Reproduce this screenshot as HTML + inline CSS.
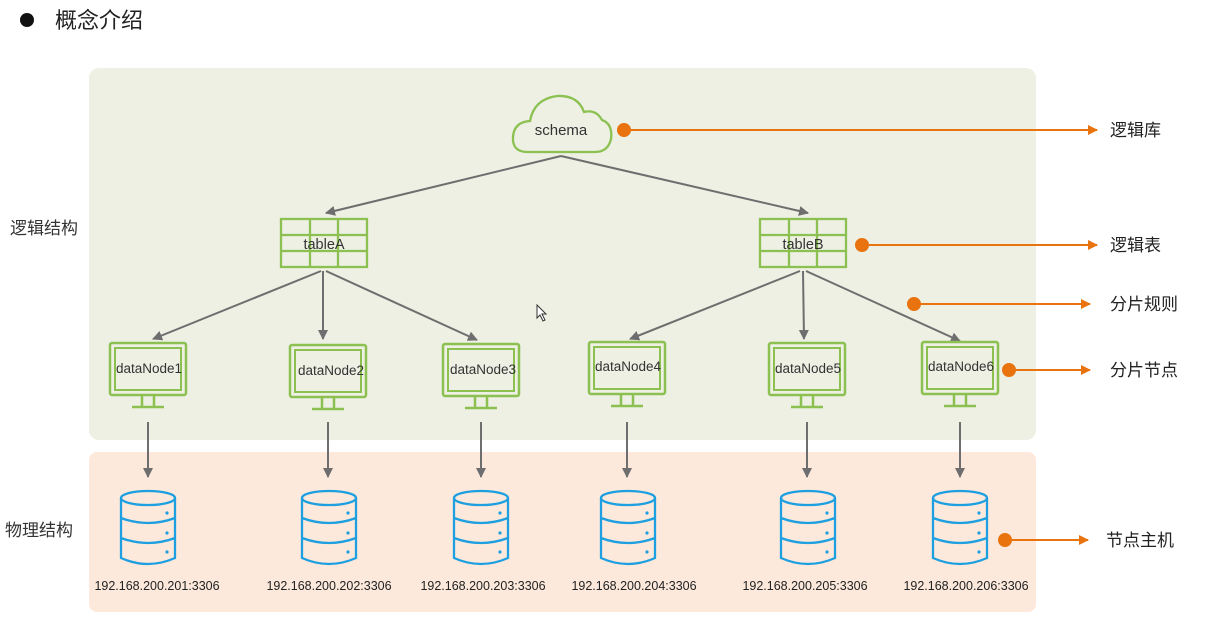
<!DOCTYPE html>
<html><head><meta charset="utf-8"><style>
body{margin:0;background:#fff;width:1211px;height:620px;overflow:hidden}
svg text{font-family:"Liberation Sans","Noto Sans CJK SC",sans-serif}
</style></head><body>
<svg width="1211" height="620" viewBox="0 0 1211 620" xmlns="http://www.w3.org/2000/svg">
<defs>
<marker id="ga" markerWidth="10" markerHeight="10" refX="9" refY="5" orient="auto" markerUnits="userSpaceOnUse"><path d="M0,0 L10,5 L0,10 z" fill="#6e6e6e"/></marker>
<marker id="oa" markerWidth="10" markerHeight="10" refX="9" refY="5" orient="auto" markerUnits="userSpaceOnUse"><path d="M0,0 L10,5 L0,10 z" fill="#e8730f"/></marker>
<g id="mon">
<rect x="-38" y="0" width="76" height="52" rx="2" fill="none" stroke="#8cc152" stroke-width="2.5"/>
<rect x="-33" y="5" width="66" height="42" fill="none" stroke="#8cc152" stroke-width="2"/>
<path d="M-6,52 V63 M6,52 V63 M-16,64 H16" stroke="#8cc152" stroke-width="2.5" fill="none"/>
</g>
<g id="db" fill="none" stroke="#1e9fe0" stroke-width="2.3">
<ellipse cx="0" cy="8" rx="27" ry="7"/>
<path d="M-27,8 V68 Q0,80 27,68 V8"/>
<path d="M-27,28 Q0,38 27,28 M-27,48 Q0,58 27,48"/>
<circle cx="19" cy="23" r="1.6" fill="#1e9fe0" stroke="none"/>
<circle cx="19" cy="43" r="1.6" fill="#1e9fe0" stroke="none"/>
<circle cx="19" cy="62" r="1.6" fill="#1e9fe0" stroke="none"/>
</g>
<g id="tbl" fill="none" stroke="#8cc152" stroke-width="2.3">
<rect x="0" y="0" width="86" height="48"/>
<path d="M0,16 H86 M0,32 H86 M29,0 V48 M57,0 V48"/>
</g>
</defs>
<circle cx="27" cy="20" r="7" fill="#111"/>
<text x="55" y="28" font-size="22" fill="#222">概念介绍</text>
<rect x="89" y="68" width="947" height="372" rx="10" fill="#edf0e3"/>
<rect x="89" y="452" width="947" height="160" rx="8" fill="#fce9dc"/>
<text x="10" y="234" font-size="17" fill="#333">逻辑结构</text>
<text x="5" y="536" font-size="17" fill="#333">物理结构</text>
<!-- cloud -->
<path d="M526,152 Q512,151 513,137 Q514,122 530,121 Q534,99 557,96 Q578,95 584,112 Q596,109 602,120 Q613,124 611,139 Q608,152 595,152 Z" fill="none" stroke="#8cc152" stroke-width="2.3"/>
<text x="561" y="135" font-size="15" fill="#333" text-anchor="middle">schema</text>
<use href="#tbl" x="281" y="219"/>
<use href="#tbl" x="760" y="219"/>
<text x="324" y="249" font-size="14.5" fill="#333" text-anchor="middle">tableA</text>
<text x="803" y="249" font-size="14.5" fill="#333" text-anchor="middle">tableB</text>
<g stroke="#6e6e6e" stroke-width="2" fill="none">
<path d="M561,156 L326,213" marker-end="url(#ga)"/>
<path d="M561,156 L808,213" marker-end="url(#ga)"/>
<path d="M321,271 L153,339" marker-end="url(#ga)"/>
<path d="M323,271 L323,339" marker-end="url(#ga)"/>
<path d="M326,271 L477,340" marker-end="url(#ga)"/>
<path d="M800,271 L630,339" marker-end="url(#ga)"/>
<path d="M803,271 L804,339" marker-end="url(#ga)"/>
<path d="M806,271 L960,341" marker-end="url(#ga)"/>
<path d="M148,422 V477" marker-end="url(#ga)"/>
<path d="M328,422 V477" marker-end="url(#ga)"/>
<path d="M481,422 V477" marker-end="url(#ga)"/>
<path d="M627,422 V477" marker-end="url(#ga)"/>
<path d="M807,422 V477" marker-end="url(#ga)"/>
<path d="M960,422 V477" marker-end="url(#ga)"/>
</g>
<use href="#mon" x="148" y="343"/><use href="#mon" x="328" y="345"/><use href="#mon" x="481" y="344"/>
<use href="#mon" x="627" y="342"/><use href="#mon" x="807" y="343"/><use href="#mon" x="960" y="342"/>
<g font-size="13.5" fill="#333" text-anchor="middle">
<text x="149" y="373">dataNode1</text><text x="331" y="375">dataNode2</text><text x="483" y="374">dataNode3</text>
<text x="628" y="371">dataNode4</text><text x="808" y="373">dataNode5</text><text x="961" y="371">dataNode6</text>
</g>
<use href="#db" x="148" y="490"/><use href="#db" x="329" y="490"/><use href="#db" x="481" y="490"/>
<use href="#db" x="628" y="490"/><use href="#db" x="808" y="490"/><use href="#db" x="960" y="490"/>
<g font-size="12.5" fill="#222" text-anchor="middle">
<text x="157" y="590">192.168.200.201:3306</text><text x="329" y="590">192.168.200.202:3306</text><text x="483" y="590">192.168.200.203:3306</text>
<text x="634" y="590">192.168.200.204:3306</text><text x="805" y="590">192.168.200.205:3306</text><text x="966" y="590">192.168.200.206:3306</text>
</g>
<g stroke="#e8730f" stroke-width="2" fill="#e8730f">
<circle cx="624" cy="130" r="6"/><path d="M624,130 H1097" marker-end="url(#oa)"/>
<circle cx="862" cy="245" r="6"/><path d="M862,245 H1097" marker-end="url(#oa)"/>
<circle cx="914" cy="304" r="6"/><path d="M914,304 H1090" marker-end="url(#oa)"/>
<circle cx="1009" cy="370" r="6"/><path d="M1009,370 H1090" marker-end="url(#oa)"/>
<circle cx="1005" cy="540" r="6"/><path d="M1005,540 H1088" marker-end="url(#oa)"/>
</g>
<g font-size="17" fill="#222">
<text x="1110" y="136">逻辑库</text><text x="1110" y="251">逻辑表</text><text x="1110" y="310">分片规则</text>
<text x="1110" y="376">分片节点</text><text x="1106" y="546">节点主机</text>
</g>
<path d="M537,305 L537,318 L540,315 L543,321 L545,320 L542,314 L546,314 Z" fill="#fff" stroke="#333" stroke-width="1"/>
</svg>
</body></html>
